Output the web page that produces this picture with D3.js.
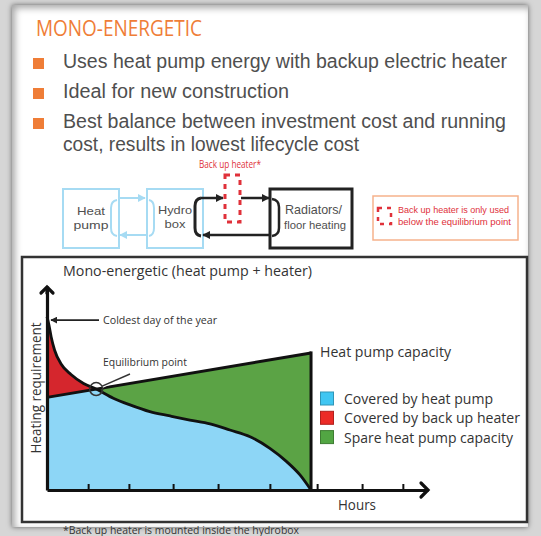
<!DOCTYPE html>
<html>
<head>
<meta charset="utf-8">
<script src="https://cdn.jsdelivr.net/npm/d3@7"></script>
<style>
  html, body { margin: 0; padding: 0; width: 541px; height: 536px; overflow: hidden; background: #d6d6d6; }
  #panel { position: absolute; left: 12px; top: 5px; width: 516px; height: 522px; background: #fff;
           box-shadow: 0 0 5px rgba(0,0,0,0.55), inset 3px 3px 7px rgba(0,0,0,0.35); }
  svg { position: absolute; left: 0; top: 0; }
  text { font-family: "Open Sans", "Noto Sans", sans-serif; }
  text.tight { font-family: "Liberation Sans", Arial, sans-serif; }
</style>
</head>
<body>
<div id="panel"></div>
<svg id="chart" width="541" height="536"></svg>
<script>
// ---- Data ----------------------------------------------------------------
const headline = "MONO-ENERGETIC";
// each bullet may wrap onto several lines
const bullets = [
  ["Uses heat pump energy with backup electric heater"],
  ["Ideal for new construction"],
  ["Best balance between investment cost and running", "cost, results in lowest lifecycle cost"]
];
const chartTitle = "Mono-energetic (heat pump + heater)";
// Load duration curve: heating requirement (% of axis) against hours (% of axis)
const demandHours = [0, 0.5, 1.1, 2.0, 3.7, 6.3, 9.6, 12.9, 17.4, 21.8, 27.0, 32.3, 37.5, 42.8, 48.0, 53.3, 58.5, 62.9, 66.4, 69.0, 69.3];
const demandLoad  = [85, 81.0, 75.0, 68.5, 61.8, 56.6, 52.2, 49.5, 45.0, 41.7, 38.4, 36.3, 34.3, 32.4, 29.4, 26.1, 20.4, 13.9, 7.4, 0.8, 0];
// Heat pump capacity line (rises as outdoor temperature rises)
const capacityHours = [0, 69.3];
const capacityLoad  = [45.4, 67.2];
const equilibrium = [12.9, 49.5];
const hourTicks = [10.8, 21.5, 33.1, 44.9, 58.5, 70.9, 82.7, 93.4];
const legendLabels = ["Covered by heat pump", "Covered by back up heater", "Spare heat pump capacity"];
const legendColors = ["#40c6f2", "#ec2b27", "#52a643"];

// ---- Setup ---------------------------------------------------------------
const svg = d3.select("#chart");
const ORANGE = "#ef7d37", TEXT = "#4f4f4f", DARK = "#222", LBLUE = "#a6dbf3", RED = "#e0313a";

function label(g, x, y, str, size, color, width, anchor) {
  const t = g.append("text").attr("x", x).attr("y", y).text(str)
    .attr("font-size", size).attr("fill", color)
    .attr("text-anchor", anchor || "start");
  if (width) t.attr("textLength", width).attr("lengthAdjust", "spacingAndGlyphs");
  return t;
}
// multi-line label set in the tighter face: one text element, one tspan per line
// lines: [{s, x, y, size, w}]
function block(g, lines, color, anchor) {
  const t = g.append("text").attr("class", "tight").attr("fill", color).attr("text-anchor", anchor || "start");
  lines.forEach(l => {
    const sp = t.append("tspan").attr("x", l.x).attr("y", l.y).attr("font-size", l.size).text(l.s);
    if (l.w) sp.attr("textLength", l.w).attr("lengthAdjust", "spacingAndGlyphs");
  });
  return t;
}

const defs = svg.append("defs");
function marker(id, color, size) {
  defs.append("marker").attr("id", id).attr("viewBox", "0 0 10 10")
    .attr("refX", 9).attr("refY", 5).attr("markerWidth", size).attr("markerHeight", size)
    .attr("markerUnits", "userSpaceOnUse").attr("orient", "auto")
    .append("path").attr("d", "M0,0 L10,5 L0,10 Z").attr("fill", color);
}
marker("ah-black", DARK, 8);
marker("ah-blue", LBLUE, 8);
marker("ah-thin", DARK, 7);

// ---- Header text ---------------------------------------------------------
const head = svg.append("g");
label(head, 36, 36, headline, 21, ORANGE, 166);
const bulletY = [68, 98, 128];
const bulletW = [[444], [226], [443, 296]];
bullets.forEach((b, i) => {
  head.append("rect").attr("x", 33).attr("y", bulletY[i] - 10).attr("width", 11).attr("height", 11).attr("fill", ORANGE);
  block(head, b.map((s, j) => ({ s, x: 63, y: bulletY[i] + j * 23, size: 20, w: bulletW[i][j] })), TEXT);
});

// ---- System diagram ------------------------------------------------------
const dg = svg.append("g");
dg.append("rect").attr("x", 63).attr("y", 189).attr("width", 56).attr("height", 59)
  .attr("fill", "none").attr("stroke", LBLUE).attr("stroke-width", 2);
dg.append("rect").attr("x", 147).attr("y", 189).attr("width", 56).attr("height", 59)
  .attr("fill", "none").attr("stroke", LBLUE).attr("stroke-width", 2);
dg.append("rect").attr("x", 270).attr("y", 189).attr("width", 82).attr("height", 59)
  .attr("fill", "none").attr("stroke", DARK).attr("stroke-width", 3);

// pipe loops inside the boxes
dg.append("path").attr("d", "M117,200 Q111,201 111,208 L111,228 Q111,235 117,236")
  .attr("fill", "none").attr("stroke", LBLUE).attr("stroke-width", 2);
dg.append("path").attr("d", "M149,200 Q154,201 154,208 L154,228 Q154,235 149,236")
  .attr("fill", "none").attr("stroke", LBLUE).attr("stroke-width", 2);
dg.append("path").attr("d", "M201,198 Q195,199 195,206 L195,228 Q195,235 201,236")
  .attr("fill", "none").attr("stroke", DARK).attr("stroke-width", 3);
dg.append("path").attr("d", "M272,199 Q279,200 279,207 L279,228 Q279,235 272,236")
  .attr("fill", "none").attr("stroke", DARK).attr("stroke-width", 2.5);

// flow arrows
const arrow = (x1, y1, x2, y2, color, w, m) => dg.append("line")
  .attr("x1", x1).attr("y1", y1).attr("x2", x2).attr("y2", y2)
  .attr("stroke", color).attr("stroke-width", w).attr("marker-end", `url(#${m})`);
arrow(119, 198, 145, 198, LBLUE, 2, "ah-blue");
arrow(147, 235, 120, 235, LBLUE, 2, "ah-blue");
arrow(201, 198, 223, 198, DARK, 2.5, "ah-black");
arrow(241, 198, 269, 198, DARK, 2.5, "ah-black");
arrow(270, 235, 203, 235, DARK, 2.5, "ah-black");

// back up heater (dashed)
dg.append("rect").attr("x", 225).attr("y", 175).attr("width", 15).attr("height", 47)
  .attr("fill", "none").attr("stroke", RED).attr("stroke-width", 3).attr("stroke-dasharray", "5,5");
label(dg, 199, 168, "Back up heater*", 10, RED, 62);

block(dg, [{ s: "Heat", x: 91, y: 215, size: 11.8, w: 28 }, { s: "pump", x: 91, y: 228.5, size: 11.8, w: 35 }], TEXT, "middle");
block(dg, [{ s: "Hydro", x: 175, y: 214, size: 11.8, w: 34 }, { s: "box", x: 175, y: 227.5, size: 11.8, w: 21 }], TEXT, "middle");
block(dg, [{ s: "Radiators/", x: 285, y: 214, size: 13.5, w: 57 }, { s: "floor heating", x: 284, y: 228.5, size: 11, w: 62 }], TEXT);

// note box
dg.append("rect").attr("x", 373).attr("y", 196).attr("width", 145).attr("height", 44)
  .attr("fill", "none").attr("stroke", "#f6b28c").attr("stroke-width", 1.5);
dg.append("rect").attr("x", 378).attr("y", 208).attr("width", 13).attr("height", 16)
  .attr("fill", "none").attr("stroke", RED).attr("stroke-width", 2.5).attr("stroke-dasharray", "4,5");
block(dg, [{ s: "Back up heater is only used", x: 398, y: 213, size: 9.5, w: 111 },
           { s: "below the equilibrium point", x: 398, y: 224.5, size: 9.5, w: 113 }], RED);

// ---- Chart frame ---------------------------------------------------------
svg.append("rect").attr("x", 22).attr("y", 257).attr("width", 505).attr("height", 265)
  .attr("fill", "#fff").attr("stroke", "#333").attr("stroke-width", 2.5);
label(svg, 63, 276, chartTitle, 15, "#333", 249);

// ---- Scales --------------------------------------------------------------
const x = d3.scaleLinear().domain([0, 100]).range([47, 428]);
const y = d3.scaleLinear().domain([0, 100]).range([490, 286]);

const demand = demandHours.map((h, i) => ({ h, v: demandLoad[i] }));
const capAt = h => capacityLoad[0] + (capacityLoad[1] - capacityLoad[0]) * (h - capacityHours[0]) / (capacityHours[1] - capacityHours[0]);
const hEnd = capacityHours[1];

const plot = svg.append("g");

// capacity trapezoid (everything the heat pump could deliver)
const capArea = d3.area().x(d => x(d)).y0(y(0)).y1(d => y(capAt(d)));
defs.append("clipPath").attr("id", "cap-clip").append("path").attr("d", capArea(capacityHours));

const demandArea = d3.area().x(d => x(d.h)).y0(y(0)).y1(d => y(d.v)).curve(d3.curveMonotoneX);

// back up heater share: demand above capacity
plot.append("path").attr("d", demandArea(demand)).attr("fill", "#d5262d");
// spare capacity
plot.append("path").attr("d", capArea(capacityHours)).attr("fill", "#5ba345");
// heat pump share: demand below capacity
plot.append("path").attr("d", demandArea(demand)).attr("fill", "#8dd6f6").attr("clip-path", "url(#cap-clip)");

// demand curve
plot.append("path").attr("d", d3.line().x(d => x(d.h)).y(d => y(d.v)).curve(d3.curveMonotoneX)(demand))
  .attr("fill", "none").attr("stroke", "#111").attr("stroke-width", 2.8);
// capacity line and its end
plot.append("path").attr("d", d3.line().x(d => x(d)).y(d => y(capAt(d)))(capacityHours))
  .attr("fill", "none").attr("stroke", "#111").attr("stroke-width", 3);
plot.append("line").attr("x1", x(hEnd)).attr("x2", x(hEnd)).attr("y1", y(capAt(hEnd)) - 1.5).attr("y2", y(0))
  .attr("stroke", "#111").attr("stroke-width", 3);

// ---- Axes ----------------------------------------------------------------
const xAxis = svg.append("g").attr("transform", `translate(0,${y(0)})`)
  .call(d3.axisBottom(x).tickValues(hourTicks).tickSize(-6).tickSizeOuter(0).tickFormat(""));
xAxis.select(".domain").attr("stroke", "#111").attr("stroke-width", 3.2);
xAxis.selectAll(".tick line").attr("stroke", "#111").attr("stroke-width", 2);

const yAxis = svg.append("g").attr("transform", `translate(${x(0)},0)`)
  .call(d3.axisLeft(y).tickValues([]).tickSizeOuter(0));
yAxis.select(".domain").attr("stroke", "#111").attr("stroke-width", 3.2);

// arrow tips on both axes
svg.append("path").attr("d", `M${x(100) - 7},${y(0) - 7} L${x(100)},${y(0)} L${x(100) - 7},${y(0) + 7}`)
  .attr("fill", "none").attr("stroke", "#111").attr("stroke-width", 3.2).attr("stroke-linecap", "round");
svg.append("path").attr("d", `M${x(0) - 6},${y(100) + 7} L${x(0)},${y(100) + 1} L${x(0) + 6},${y(100) + 7}`)
  .attr("fill", "none").attr("stroke", "#111").attr("stroke-width", 3.2).attr("stroke-linecap", "round");
svg.append("line").attr("x1", x(0)).attr("x2", x(0)).attr("y1", y(100) + 1).attr("y2", y(96))
  .attr("stroke", "#111").attr("stroke-width", 3.2);

label(svg, 338, 510, "Hours", 14, "#333", 38);
svg.append("text").attr("transform", "translate(40.5,388) rotate(-90)")
  .attr("text-anchor", "middle").attr("font-size", 14.5).attr("fill", "#333")
  .attr("textLength", 131).attr("lengthAdjust", "spacingAndGlyphs").text("Heating requirement");

// ---- Annotations ---------------------------------------------------------
svg.append("line").attr("x1", 99).attr("y1", y(demandLoad[0]) + 3.5).attr("x2", x(0) + 4).attr("y2", y(demandLoad[0]) + 3.5)
  .attr("stroke", DARK).attr("stroke-width", 1.8).attr("marker-end", "url(#ah-thin)");
label(svg, 103, 324, "Coldest day of the year", 11.5, "#333", 114);

const ex = x(equilibrium[0]), ey = y(equilibrium[1]);
svg.append("line").attr("x1", ex + 6).attr("y1", ey - 3).attr("x2", 130).attr("y2", 374)
  .attr("stroke", "#fff").attr("stroke-width", 4);
svg.append("line").attr("x1", ex + 6).attr("y1", ey - 3).attr("x2", 130).attr("y2", 374)
  .attr("stroke", "#333").attr("stroke-width", 1.4);
svg.append("circle").attr("cx", ex).attr("cy", ey).attr("r", 6.5)
  .attr("fill", "none").attr("stroke", "#333").attr("stroke-width", 1.5);
label(svg, 103, 366, "Equilibrium point", 11.5, "#333", 84);

label(svg, 320, 357, "Heat pump capacity", 14.5, "#333", 131);

// ---- Legend --------------------------------------------------------------
const legW = [149, 176, 169];
const leg = svg.append("g");
legendLabels.forEach((t, i) => {
  const ly = 392 + i * 19.3;
  leg.append("rect").attr("x", 320.5).attr("y", ly).attr("width", 13).attr("height", 13)
    .attr("fill", legendColors[i]).attr("stroke", d3.color(legendColors[i]).darker(0.8)).attr("stroke-width", 1);
  label(leg, 344, ly + 12, t, 14.5, "#333", legW[i]);
});

// ---- Footnote ------------------------------------------------------------
label(svg, 63, 533.5, "*Back up heater is mounted inside the hydrobox", 10.5, "#333", 236);
</script>
</body>
</html>
